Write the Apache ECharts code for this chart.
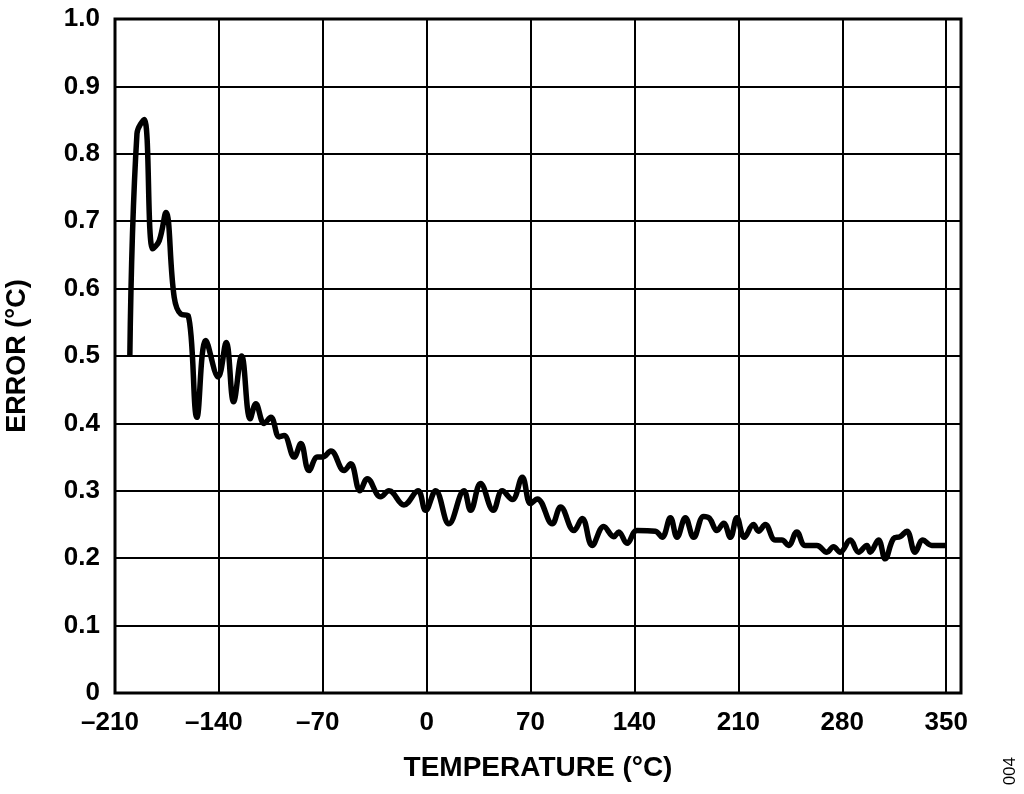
<!DOCTYPE html>
<html>
<head>
<meta charset="utf-8">
<script src="https://cdn.jsdelivr.net/npm/echarts@6/dist/echarts.min.js"></script>
<style>
html,body{margin:0;padding:0;background:#fff;}
#chart{width:1024px;height:794px;}
</style>
</head>
<body>
<div id="chart"></div>
<script>
var temperature = [-200,-195.2,-190.3,-184.6,-180.2,-175.7,-170.1,-165.6,-160.7,-154.8,-148.8,-140.5,-135.1,-130.1,-124.7,-118.9,-115.1,-109.5,-105,-99.4,-96.1,-89.3,-84.8,-79.3,-73.6,-70.2,-64.6,-55.6,-51.2,-44.9,-40,-31,-25.4,-15.3,-5.9,-0.7,6,15,25.1,29.6,36.3,44.9,50.9,57.7,64.4,70,74.5,84.6,90.2,99.2,104.8,111.5,119.3,126.1,129.4,135,141.7,154.1,158.6,164.2,168.7,174.3,179.9,186.6,190.6,195.6,200.1,204.6,209,214,220.2,223.6,228.1,234.8,239.3,243.8,249.4,255,262.9,269.6,274.1,278.6,285.4,291,296.6,298.8,304.4,308.9,314.5,319,323.5,329.1,334.3,340.3,350];
var errorC = [0.50,0.83,0.851,0.659,0.671,0.713,0.587,0.562,0.56,0.409,0.523,0.469,0.520,0.432,0.50,0.407,0.429,0.40,0.409,0.38,0.382,0.35,0.37,0.33,0.35,0.35,0.359,0.33,0.34,0.30,0.318,0.291,0.30,0.279,0.30,0.271,0.30,0.251,0.30,0.271,0.311,0.271,0.30,0.287,0.32,0.281,0.288,0.251,0.276,0.241,0.259,0.219,0.247,0.232,0.239,0.222,0.241,0.240,0.231,0.260,0.231,0.260,0.231,0.262,0.259,0.241,0.252,0.231,0.260,0.231,0.250,0.240,0.250,0.227,0.227,0.219,0.239,0.219,0.219,0.209,0.217,0.209,0.227,0.209,0.219,0.209,0.227,0.199,0.229,0.232,0.240,0.209,0.227,0.219,0.219];
var xTicks = [-210,-140,-70,0,70,140,210,280,350];
var yTicks = [0,0.1,0.2,0.3,0.4,0.5,0.6,0.7,0.8,0.9,1.0];

var data = temperature.map(function(t,i){return [t, errorC[i]];});
var font = 'Liberation Sans, Arial, sans-serif';
var labelStyle = {fontFamily:font,fontWeight:'bold',fontSize:26,color:'#000'};
var chart = echarts.init(document.getElementById('chart'));
chart.setOption({
  animation:false,
  backgroundColor:'#fff',
  grid:{left:115,right:63,top:19,bottom:101,show:true,borderColor:'#000',borderWidth:3,backgroundColor:'transparent',outerBoundsMode:'none'},
  xAxis:{
    type:'value',min:-210,max:360,interval:70,
    name:'TEMPERATURE (°C)',nameLocation:'middle',nameGap:61,
    nameTextStyle:{fontFamily:font,fontWeight:'bold',fontSize:28,color:'#000'},
    axisLine:{show:false},axisTick:{show:false},
    splitLine:{show:true,lineStyle:{color:'#000',width:2}},
    axisLabel:{fontFamily:font,fontWeight:'bold',fontSize:26,color:'#000',margin:17,showMaxLabel:false,
      rich:{neg:Object.assign({padding:[0,10,0,0]},labelStyle)},
      formatter:function(v){ if(xTicks.indexOf(v)<0) return ''; return v<0 ? '{neg|\u2013'+Math.abs(v)+'}' : String(v);}}
  },
  yAxis:{
    type:'value',min:0,max:1,interval:0.1,
    name:'ERROR (°C)',nameLocation:'middle',nameGap:84,nameRotate:90,
    nameTextStyle:{fontFamily:font,fontWeight:'bold',fontSize:27,color:'#000'},
    axisLine:{show:false},axisTick:{show:false},
    splitLine:{show:true,lineStyle:{color:'#000',width:2}},
    axisLabel:{fontFamily:font,fontWeight:'bold',fontSize:26,color:'#000',margin:15,
      formatter:function(v){ var r=Math.round(v*10)/10; return r===0?'0':r.toFixed(1);}}
  },
  graphic:[{type:'text',left:1002,top:757,rotation:Math.PI/2,
    style:{text:'004',fontFamily:font,fontSize:17,fill:'#000'}}],
  series:[{type:'line',data:data,smooth:0.4,showSymbol:false,
    lineStyle:{color:'#000',width:5.5},z:5}]
});
</script>
</body>
</html>
